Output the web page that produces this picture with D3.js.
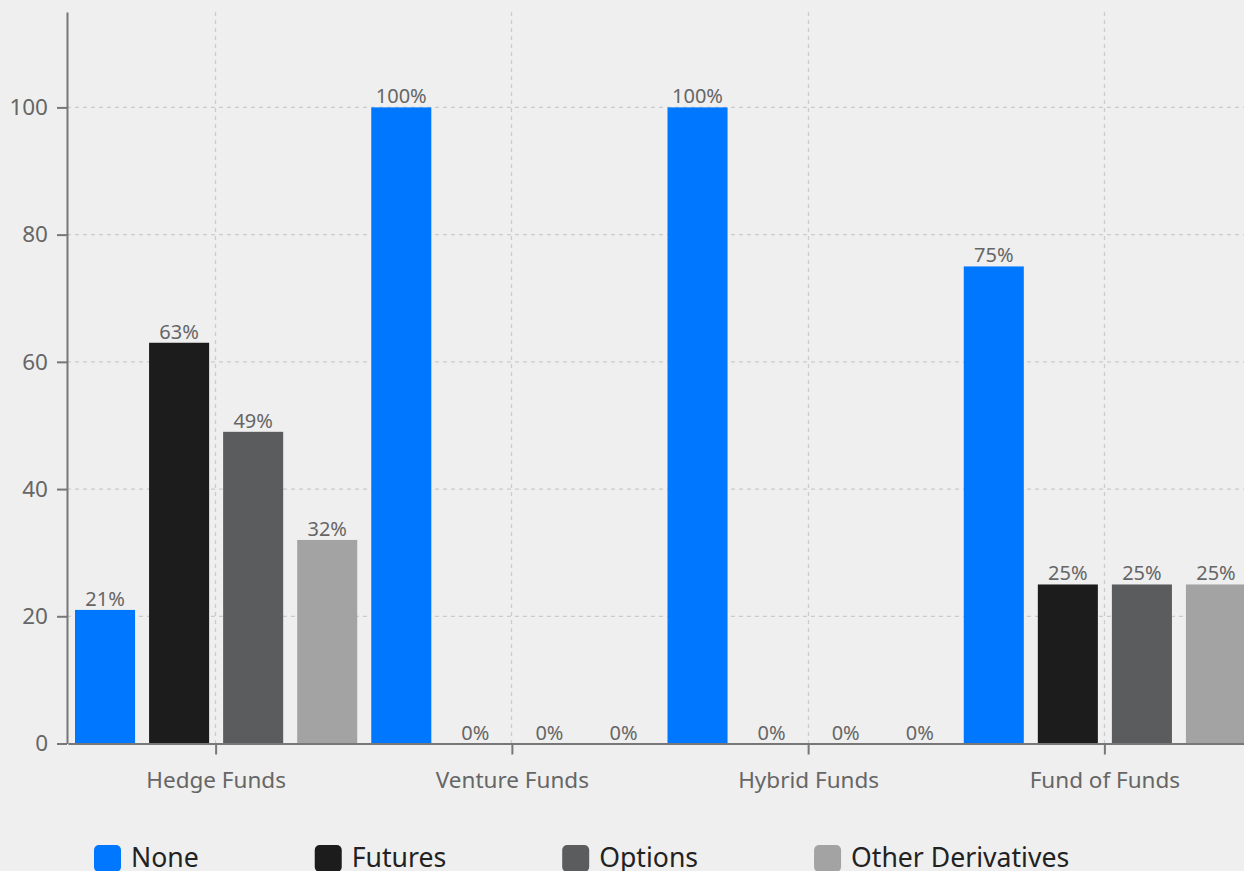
<!DOCTYPE html>
<html><head><meta charset="utf-8">
<script src="https://cdn.jsdelivr.net/npm/d3@7"></script>
<style>
html,body{margin:0;padding:0;background:#efefef;}
svg{display:block;font-family:"Noto Sans","Open Sans",sans-serif;}
</style></head>
<body>
<svg id="chart" width="1244" height="871"></svg>
<script>
const categories = ["Hedge Funds", "Venture Funds", "Hybrid Funds", "Fund of Funds"];
const seriesNames = ["None", "Futures", "Options", "Other Derivatives"];
const seriesColors = ["#0077ff", "#1c1c1c", "#5b5c5e", "#a3a3a3"];
const noneValues = [21, 100, 100, 75];
const futuresValues = [63, 0, 0, 25];
const optionsValues = [49, 0, 0, 25];
const otherValues = [32, 0, 0, 25];
const yTicks = [0, 20, 40, 60, 80, 100];

const seriesValues = [noneValues, futuresValues, optionsValues, otherValues];
const data = categories.map((c, i) => ({
  category: c,
  values: seriesNames.map((s, j) => ({ series: s, value: seriesValues[j][i], color: seriesColors[j] }))
}));

const svg = d3.select("#chart");
const axisX = 67, x0r = 68, x1r = 1253;
const yBottom = 743.5, yTop = 12;

const x0 = d3.scaleBand().domain(categories).range([x0r, x1r]).padding(0);
const x1 = d3.scaleBand().domain(seriesNames).range([0, x0.bandwidth()])
  .paddingInner(14 / 74).paddingOuter(7 / 74);
const y = d3.scaleLinear().domain([0, 115]).range([yBottom, yTop]);

// grid
const grid = svg.append("g");
grid.selectAll("line.h").data(yTicks.filter(d => d > 0)).join("line")
  .attr("x1", axisX).attr("x2", 1244)
  .attr("y1", d => y(d)).attr("y2", d => y(d))
  .attr("stroke", "#cccccc").attr("stroke-width", 1.3).attr("stroke-dasharray", "4,4");
grid.selectAll("line.v").data(categories).join("line")
  .attr("x1", d => Math.round(x0(d) + x0.bandwidth() / 2) - 0.5).attr("x2", d => Math.round(x0(d) + x0.bandwidth() / 2) - 0.5)
  .attr("y1", yTop).attr("y2", yBottom)
  .attr("stroke", "#cccccc").attr("stroke-width", 1.3).attr("stroke-dasharray", "4,4");

// bars
const groups = svg.append("g").selectAll("g").data(data).join("g")
  .attr("transform", d => `translate(${x0(d.category)},0)`);
groups.selectAll("rect").data(d => d.values).join("rect")
  .attr("x", d => x1(d.series)).attr("width", x1.bandwidth())
  .attr("y", d => y(d.value)).attr("height", d => yBottom - y(d.value))
  .attr("fill", d => d.color);
groups.selectAll("text").data(d => d.values).join("text")
  .attr("x", d => x1(d.series) + x1.bandwidth() / 2)
  .attr("y", d => y(d.value) - 4)
  .attr("text-anchor", "middle").attr("font-size", 20).attr("fill", "#666")
  .text(d => d.value + "%");

// y axis
const yAxis = d3.axisLeft(y).tickValues(yTicks).tickSize(10).tickPadding(9).tickSizeOuter(0);
const gy = svg.append("g").attr("transform", `translate(${axisX},0)`).call(yAxis)
  .attr("font-family", null).attr("font-size", null);
gy.select(".domain").attr("stroke", "#777").attr("stroke-width", 2);
gy.selectAll(".tick line").attr("stroke", "#777").attr("stroke-width", 2);
gy.selectAll(".tick text").attr("font-size", 22.5).attr("fill", "#666");

// x axis
const xAxis = d3.axisBottom(x0).tickSize(11).tickPadding(18).tickSizeOuter(0);
const gx = svg.append("g").attr("transform", `translate(0,${yBottom})`).call(xAxis)
  .attr("font-family", null).attr("font-size", null);
gx.select(".domain").attr("stroke", "#777").attr("stroke-width", 2);
gx.selectAll(".tick line").attr("stroke", "#777").attr("stroke-width", 2);
gx.selectAll(".tick text").attr("font-size", 22.5).attr("fill", "#666");

// legend
const legend = svg.append("g").attr("transform", "translate(94,845)");
let lx = 0;
seriesNames.forEach((s, i) => {
  const g = legend.append("g").attr("transform", `translate(${lx},0)`);
  g.append("rect").attr("width", 27).attr("height", 27).attr("rx", 5)
    .attr("fill", seriesColors[i]);
  const t = g.append("text").attr("x", 37).attr("y", 22).attr("font-size", 26.6)
    .attr("fill", "#222").text(s);
  lx += 37 + t.node().getComputedTextLength() + 116;
});
</script>
</body></html>
